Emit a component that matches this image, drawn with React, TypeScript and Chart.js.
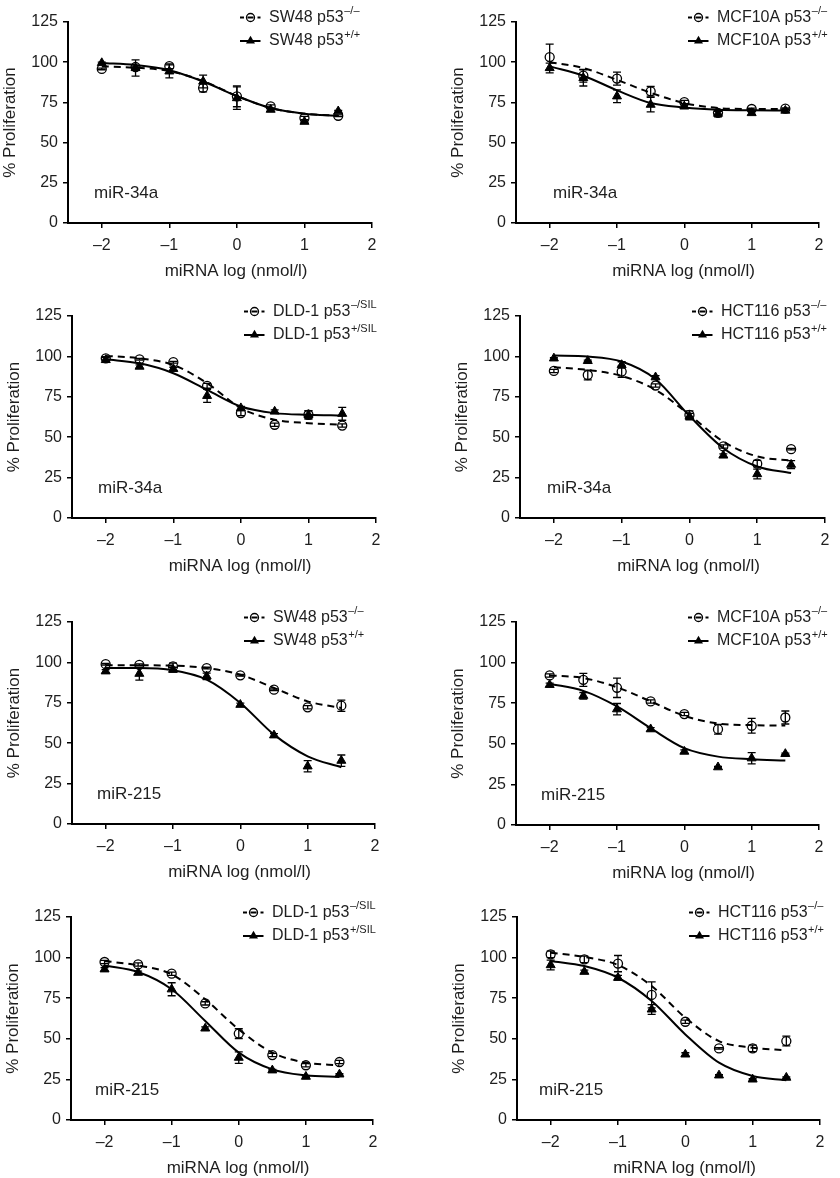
import React, { useEffect, useRef } from "react";
import { Chart, registerables } from "chart.js";

Chart.register(...registerables);

// ---------------- DATA ----------------
const doses = [-2, -1.5, -1, -0.5, 0, 0.5, 1, 1.5];
const fitDoses = [-2, -1.5, -1, -0.5, 0, 0.5, 1, 1.5];
const xTickValues = [-2, -1, 0, 1, 2];
const yTickValues = [0, 25, 50, 75, 100, 125];
const xTitle = "miRNA log (nmol/l)";
const yTitle = "% Proliferation";

const cellLines = ["SW48", "MCF10A", "DLD-1", "HCT116", "SW48", "MCF10A", "DLD-1", "HCT116"];
const koGenotypes = ["–/–", "–/–", "–/SIL", "–/–", "–/–", "–/–", "–/SIL", "–/–"];
const wtGenotypes = ["+/+", "+/+", "+/SIL", "+/+", "+/+", "+/+", "+/SIL", "+/+"];
const mirnaLabels = ["miR-34a", "miR-34a", "miR-34a", "miR-34a", "miR-215", "miR-215", "miR-215", "miR-215"];

// Panel A: SW48, miR-34a
const swA_koMean = [95.8, 97, 97.5, 84, 78.8, 72.5, 65.3, 66.7];
const swA_koErr = [0.5, 0.5, 1.5, 2.5, 6.5, 1, 1, 0.5];
const swA_wtMean = [99.5, 96.4, 94.3, 88, 77.7, 70.5, 63, 69.5];
const swA_wtErr = [0.5, 5, 4, 4, 7, 1, 0.5, 0.5];
const swA_koFit = [97.4, 96.6, 94.5, 88.3, 79, 71.5, 68, 66.7];
const swA_wtFit = [99.5, 98.2, 95, 88, 79, 71.5, 68, 66.7];

// Panel B: MCF10A, miR-34a
const mcA_koMean = [103.2, 91.6, 89.8, 81.9, 75.2, 68.5, 70.9, 71.1];
const mcA_koErr = [8, 4, 4, 3, 1, 1, 0.5, 0.5];
const mcA_wtMean = [96.4, 90.2, 78.8, 73.6, 72.5, 68, 68.4, 69.9];
const mcA_wtErr = [3, 5, 4, 4.5, 1, 2, 1, 1];
const mcA_koFit = [100, 96.4, 89, 81, 74.6, 71.5, 70.9, 70.9];
const mcA_wtFit = [97.4, 91.6, 82.5, 74.6, 71.9, 70.5, 70.1, 70];

// Panel C: DLD-1, miR-34a
const dlA_koMean = [98.8, 98.2, 96.4, 81.8, 64.9, 57.7, 63.9, 57.2];
const dlA_koErr = [1, 0.5, 0.5, 1.5, 1.5, 1, 2.5, 1];
const dlA_wtMean = [97.8, 93.7, 92.3, 75.6, 68, 65.9, 63.8, 64.5];
const dlA_wtErr = [1.5, 1, 1, 4, 1, 1, 2.5, 4];
const dlA_koFit = [100.3, 98.8, 94.7, 83.4, 68, 60.8, 58.7, 57.7];
const dlA_wtFit = [98.2, 95.7, 89.6, 79.3, 69, 64.9, 63.9, 63.4];

// Panel D: HCT116, miR-34a
const hcA_koMean = [91, 88.5, 90.6, 82, 63.8, 44.3, 33.6, 42.6];
const hcA_koErr = [1, 3, 3.5, 1, 2.5, 1, 2, 0.5];
const hcA_wtMean = [98.8, 97.2, 94.7, 87.1, 62.8, 38.7, 27.2, 33];
const hcA_wtErr = [0.5, 0.5, 2, 1, 2, 1, 3, 2.5];
const hcA_koFit = [93.3, 91.6, 87.9, 79.3, 63.8, 47.3, 38.1, 35.6];
const hcA_wtFit = [100.5, 99.9, 96.8, 85.9, 63.2, 43.2, 31.9, 27.8];

// Panel E: SW48, miR-215
const swB_koMean = [98.9, 98.5, 97.5, 96.5, 92, 83.1, 72.2, 73.2];
const swB_koErr = [0.5, 0.5, 2, 0.5, 0.5, 0.5, 1, 3.5];
const swB_wtMean = [94.5, 93, 95.5, 91.4, 73.8, 54.9, 35.7, 39.2];
const swB_wtErr = [1, 4, 1.5, 2, 1, 1, 3.5, 3.5];
const swB_koFit = [98.3, 98.2, 98, 96.5, 92.4, 84.2, 75.9, 71.8];
const swB_wtFit = [96.5, 96.5, 95.1, 89.3, 74.9, 55.3, 41.9, 35.1];

// Panel F: MCF10A, miR-215
const mcB_koMean = [92.1, 89.4, 84.5, 76.1, 68.3, 59, 61.1, 66.2];
const mcB_koErr = [1, 4, 6, 1, 1, 3, 4.5, 4];
const mcB_wtMean = [86.3, 79.6, 71.3, 59, 45.2, 35.6, 41.1, 43.8];
const mcB_wtErr = [1, 2, 3.5, 1, 1, 0.5, 3.5, 0.5];
const mcB_koFit = [92.1, 90.5, 84.8, 76.1, 67.2, 62.5, 61.5, 61.2];
const mcB_wtFit = [87, 82.6, 73, 59.6, 47.3, 42.1, 40.5, 39.7];

// Panel G: DLD-1, miR-215
const dlB_koMean = [97.3, 95.8, 90.1, 71.8, 53.2, 40, 33.7, 35.7];
const dlB_koErr = [1, 1, 1, 1, 3, 1, 1, 1];
const dlB_wtMean = [92.8, 90.7, 80.5, 56.4, 38.4, 30.6, 26.7, 28.1];
const dlB_wtErr = [1, 1, 4, 1, 3.5, 0.5, 0.5, 0.5];
const dlB_koFit = [97.9, 95.2, 89.7, 74.3, 55.8, 41.5, 35.3, 33.7];
const dlB_wtFit = [95.2, 91.1, 80.5, 61, 41.5, 31.2, 27.5, 26.5];

// Panel H: HCT116, miR-215
const hcB_koMean = [102, 98.9, 96.3, 77, 60.5, 44.1, 44.1, 48.6];
const hcB_koErr = [2, 2, 5, 8, 1, 0.5, 2, 3];
const hcB_wtMean = [95.4, 91.3, 87.6, 68.1, 40.4, 27.5, 25, 26.1];
const hcB_wtErr = [3, 1, 1.5, 3, 1, 0.5, 0.5, 0.5];
const hcB_koFit = [103, 100.4, 95.4, 82.5, 63, 48.6, 44.5, 42.9];
const hcB_wtFit = [97.9, 94.8, 87.6, 73.3, 52.7, 35.3, 27.1, 24.4];

const koMeans = [swA_koMean, mcA_koMean, dlA_koMean, hcA_koMean, swB_koMean, mcB_koMean, dlB_koMean, hcB_koMean];
const koErrs = [swA_koErr, mcA_koErr, dlA_koErr, hcA_koErr, swB_koErr, mcB_koErr, dlB_koErr, hcB_koErr];
const wtMeans = [swA_wtMean, mcA_wtMean, dlA_wtMean, hcA_wtMean, swB_wtMean, mcB_wtMean, dlB_wtMean, hcB_wtMean];
const wtErrs = [swA_wtErr, mcA_wtErr, dlA_wtErr, hcA_wtErr, swB_wtErr, mcB_wtErr, dlB_wtErr, hcB_wtErr];
const koFits = [swA_koFit, mcA_koFit, dlA_koFit, hcA_koFit, swB_koFit, mcB_koFit, dlB_koFit, hcB_koFit];
const wtFits = [swA_wtFit, mcA_wtFit, dlA_wtFit, hcA_wtFit, swB_wtFit, mcB_wtFit, dlB_wtFit, hcB_wtFit];

// ---------------- LAYOUT (page pixels: plot area edges) ----------------
const BOXES = [
  { cx: 0, L: 68, R: 372, T: 22, B: 223, ann: 26 },
  { cx: 420, L: 516, R: 819, T: 22, B: 223, ann: 37 },
  { cx: 0, L: 72, R: 376, T: 316, B: 518, ann: 26 },
  { cx: 420, L: 520, R: 825, T: 316, B: 518, ann: 27 },
  { cx: 0, L: 72, R: 375, T: 622, B: 824, ann: 25 },
  { cx: 420, L: 516, R: 819, T: 622, B: 825, ann: 25 },
  { cx: 0, L: 71, R: 373, T: 917, B: 1120, ann: 24 },
  { cx: 420, L: 517, R: 820, T: 917, B: 1120, ann: 22 },
];

const FAMILY = '"Liberation Sans", Arial, Helvetica, sans-serif';
const TEXT = "#1e1e1e";
const X_AXIS_H = 50;
const PAGE_H = 1178;
const CW = 420;

const fmtTick = (v: number) => (v < 0 ? "–" + Math.abs(v) : String(v));

function drawLegendEntry(
  ctx: CanvasRenderingContext2D,
  sx: number,
  tx: number,
  y: number,
  dashed: boolean,
  cell: string,
  sup: string
) {
  ctx.save();
  ctx.strokeStyle = "#000";
  ctx.fillStyle = "#000";
  ctx.lineWidth = 2;
  ctx.setLineDash([]);
  if (dashed) {
    ctx.beginPath();
    ctx.moveTo(sx - 10.5, y);
    ctx.lineTo(sx - 6.5, y);
    ctx.moveTo(sx - 3, y);
    ctx.lineTo(sx + 3, y);
    ctx.moveTo(sx + 7, y);
    ctx.lineTo(sx + 10, y);
    ctx.stroke();
    ctx.lineWidth = 1.3;
    ctx.beginPath();
    ctx.arc(sx, y, 4, 0, Math.PI * 2);
    ctx.stroke();
  } else {
    ctx.beginPath();
    ctx.moveTo(sx - 10.5, y);
    ctx.lineTo(sx + 10, y);
    ctx.stroke();
    const r = 5.2;
    ctx.beginPath();
    ctx.moveTo(sx, y - r);
    ctx.lineTo(sx + r * 0.866, y + r * 0.5);
    ctx.lineTo(sx - r * 0.866, y + r * 0.5);
    ctx.closePath();
    ctx.fill();
  }
  ctx.fillStyle = TEXT;
  ctx.textBaseline = "middle";
  ctx.textAlign = "left";
  ctx.font = `16px ${FAMILY}`;
  const main = cell + " p53";
  ctx.fillText(main, tx, y);
  const w = ctx.measureText(main).width;
  ctx.font = `11px ${FAMILY}`;
  ctx.fillText(sup, tx + w + 0.5, y - 6.5);
  ctx.restore();
}

function Panel({ idx }: { idx: number }) {
  const ref = useRef<HTMLCanvasElement>(null);
  const box = BOXES[idx];
  const above = 45;
  const cy = box.T - above;
  const canvasBottom = Math.min(box.B + 62, PAGE_H);
  const ch = canvasBottom - cy;
  const below = canvasBottom - box.B;

  useEffect(() => {
    const canvas = ref.current;
    if (!canvas) return;
    const toPts = (ys: number[], xs: number[]) => ys.map((v, i) => ({ x: xs[i], y: v }));

    const decorPlugin = {
      id: "decor" + idx,
      beforeDatasetsDraw(chart: any) {
        const { ctx, scales } = chart;
        const xs = scales.x;
        const ys = scales.y;
        ctx.save();
        ctx.strokeStyle = "#000";
        ctx.lineWidth = 1.3;
        const series = [
          { m: koMeans[idx], e: koErrs[idx] },
          { m: wtMeans[idx], e: wtErrs[idx] },
        ];
        for (const s of series) {
          s.m.forEach((m: number, i: number) => {
            const e = s.e[i];
            if (!e) return;
            const px = xs.getPixelForValue(doses[i]);
            const t = ys.getPixelForValue(m + e);
            const b = ys.getPixelForValue(m - e);
            ctx.beginPath();
            ctx.moveTo(px, t);
            ctx.lineTo(px, b);
            ctx.moveTo(px - 4, t);
            ctx.lineTo(px + 4, t);
            ctx.moveTo(px - 4, b);
            ctx.lineTo(px + 4, b);
            ctx.stroke();
          });
        }
        ctx.restore();
      },
      afterDraw(chart: any) {
        const { ctx, chartArea } = chart;
        const { left, right, top, bottom } = chartArea;
        drawLegendEntry(ctx, left + 182.5, left + 201, top - 4.5, true, cellLines[idx], koGenotypes[idx]);
        drawLegendEntry(ctx, left + 182.5, left + 201, top + 19, false, cellLines[idx], wtGenotypes[idx]);
        ctx.save();
        ctx.fillStyle = TEXT;
        ctx.font = `17px ${FAMILY}`;
        ctx.textAlign = "left";
        ctx.textBaseline = "middle";
        ctx.fillText(mirnaLabels[idx], left + box.ann, bottom - 30);
        ctx.textAlign = "center";
        ctx.fillText(xTitle, (left + right) / 2 + 16, bottom + 48);
        ctx.translate(left - 57.5, (top + bottom) / 2);
        ctx.rotate(-Math.PI / 2);
        ctx.fillText(yTitle, 0, 0);
        ctx.restore();
      },
    };

    const tickFont = { family: FAMILY, size: 16 };
    const chart = new Chart(canvas, {
      type: "scatter",
      data: {
        datasets: [
          {
            label: "ko points",
            data: toPts(koMeans[idx], doses),
            showLine: false,
            pointStyle: "circle",
            pointRadius: 4.5,
            pointBorderWidth: 1.3,
            pointBackgroundColor: "rgba(0,0,0,0)",
            pointBorderColor: "#000",
          },
          {
            label: "wt points",
            data: toPts(wtMeans[idx], doses),
            showLine: false,
            pointStyle: "triangle",
            pointRadius: 5.2,
            pointBorderWidth: 1,
            pointBackgroundColor: "#000",
            pointBorderColor: "#000",
          },
          {
            label: "ko fit",
            data: toPts(koFits[idx], fitDoses),
            showLine: true,
            pointRadius: 0,
            borderColor: "#000",
            borderWidth: 2,
            borderDash: [7, 5],
            cubicInterpolationMode: "monotone",
            fill: false,
          },
          {
            label: "wt fit",
            data: toPts(wtFits[idx], fitDoses),
            showLine: true,
            pointRadius: 0,
            borderColor: "#000",
            borderWidth: 2,
            cubicInterpolationMode: "monotone",
            fill: false,
          },
        ],
      },
      options: {
        animation: false,
        responsive: false,
        devicePixelRatio: 1,
        events: [],
        layout: {
          padding: {
            left: 0,
            top: above,
            right: box.cx + CW - box.R,
            bottom: below - X_AXIS_H,
          },
        },
        plugins: {
          legend: { display: false },
          tooltip: { enabled: false },
          title: { display: false },
        },
        scales: {
          x: {
            type: "linear",
            min: -2.5,
            max: 2,
            afterBuildTicks: (s: any) => {
              s.ticks = xTickValues.map((v) => ({ value: v }));
            },
            afterFit: (s: any) => {
              s.height = X_AXIS_H;
            },
            grid: { drawOnChartArea: false, drawTicks: true, tickLength: 5, color: "#000", lineWidth: 1.5 },
            border: { color: "#000", width: 2 },
            ticks: {
              font: tickFont,
              color: TEXT,
              padding: 8,
              maxRotation: 0,
              autoSkip: false,
              callback: (v: any) => fmtTick(Number(v)),
            },
          },
          y: {
            type: "linear",
            min: 0,
            max: 125,
            afterBuildTicks: (s: any) => {
              s.ticks = yTickValues.map((v) => ({ value: v }));
            },
            afterFit: (s: any) => {
              s.width = box.L - box.cx;
            },
            grid: { drawOnChartArea: false, drawTicks: true, tickLength: 5, color: "#000", lineWidth: 1.5 },
            border: { color: "#000", width: 2 },
            ticks: {
              font: tickFont,
              color: TEXT,
              padding: 5,
              autoSkip: false,
              callback: (v: any) => String(v),
            },
          },
        },
      } as any,
      plugins: [decorPlugin],
    });
    return () => chart.destroy();
  }, [idx]);

  return (
    <canvas
      ref={ref}
      width={CW}
      height={ch}
      style={{ position: "absolute", left: box.cx, top: cy, width: CW, height: ch, display: "block" }}
    />
  );
}

export default function App() {
  return (
    <div
      style={{
        position: "absolute",
        left: 0,
        top: 0,
        width: 840,
        height: PAGE_H,
        background: "#fff",
      }}
    >
      {BOXES.map((_, i) => (
        <Panel key={i} idx={i} />
      ))}
    </div>
  );
}
